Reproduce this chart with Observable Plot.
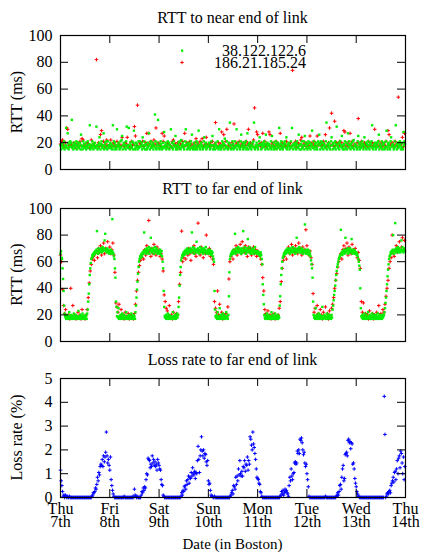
<!DOCTYPE html>
<html><head><meta charset="utf-8">
<script src="https://cdn.jsdelivr.net/npm/d3@7"></script>
<script src="https://cdn.jsdelivr.net/npm/@observablehq/plot@0.6"></script>
<style>
html,body{margin:0;padding:0;background:#fff;}
#wrap{position:relative;width:433px;height:558px;overflow:hidden;font-family:"Liberation Serif","Times New Roman",serif;}
</style></head>
<body><div id="wrap"></div>
<script>
// ---- tick / label data ----
const dayTicks = [0, 24, 48, 72, 96, 120, 144, 168]; // hours since Thu 7th 00:00
const dayLabels = ["Thu\n7th", "Fri\n8th", "Sat\n9th", "Sun\n10th", "Mon\n11th", "Tue\n12th", "Wed\n13th", "Thu\n14th"];
const rttTicks = [0, 20, 40, 60, 80, 100];
const lossTicks = [0, 1, 2, 3, 4, 5];
const seriesNames = ["38.122.122.6", "186.21.185.24"];
const titles = ["RTT to near end of link", "RTT to far end of link", "Loss rate to far end of link"];
const yLabels = ["RTT (ms)", "RTT (ms)", "Loss rate (%)"];
const xLabel = "Date (in Boston)";

// ---- sampling intervals (hours) ----
const greenStep = 0.25, redStep = 0.5, lossStep = 1 / 3;

// ---- RTT to near end, 38.122.122.6 (every 15 min) ----
const nearGreen = [
18,15,19,18,17,16,20,21,15,18,17,31, 18,16,27,20,15,17,19,21,17,20,37,16, 18,15,17,20,19,16,18,21,15,18,20,17, 16,18,20,15,26,18,17,15,21,17,19,16,
17,20,15,17,18,21,16,18,19,33,15,18, 16,17,21,19,15,18,17,20,16,17,32,18, 15,18,16,20,24,18,15,19,21,17,16,18, 27,15,18,20,17,16,21,15,21,18,16,18,
17,20,16,19,15,18,33,17,21,15,20,18, 16,15,30,18,17,20,18,15,16,21,17,22, 25,15,18,20,19,16,18,15,21,32,17,18, 16,31,18,15,20,18,17,16,21,15,20,29,
18,15,16,20,17,19,15,17,21,16,17,21, 17,18,20,15,24,18,16,21,18,15,19,18, 15,16,20,17,27,18,15,19,21,16,17,18, 20,15,18,17,41,21,16,15,18,20,37,16,
18,15,16,21,19,17,15,17,20,16,28,17, 18,20,15,18,16,21,18,20,15,18,17,30, 17,20,16,15,19,21,17,18,25,15,16,18, 15,18,20,17,21,16,15,22,18,17,20,18,
16,15,18,21,30,18,19,15,16,20,17,18, 15,19,21,16,26,17,15,17,20,18,15,16, 18,21,15,20,17,29,18,16,15,18,20,17, 18,15,16,21,24,17,18,20,15,16,18,17,
17,20,19,15,16,18,21,18,25,15,18,16, 18,15,20,18,17,16,21,17,15,30,17,18, 16,15,18,21,17,20,19,15,23,18,16,17, 21,17,15,16,20,19,35,18,15,18,16,21,
19,15,17,16,21,17,18,30,15,18,20,17, 18,16,15,21,26,17,18,20,15,16,18,20, 17,21,15,16,27,18,15,19,20,17,16,18, 15,18,20,17,21,35,16,15,18,17,20,18,
16,15,18,21,24,18,19,15,18,16,20,18, 17,21,19,15,26,18,16,20,18,15,19,18, 17,16,21,15,25,18,17,20,15,16,17,21, 19,15,18,16,20,18,31,17,15,19,21,16,
18,15,18,20,17,21,19,16,24,15,17,18, 20,19,15,17,16,21,17,31,18,15,19,18, 16,20,18,15,19,21,17,16,26,18,15,18, 19,15,21,16,17,18,21,15,25,18,20,16,
18,15,19,21,16,17,20,15,18,19,29,17, 16,21,17,15,19,17,20,16,15,18,21,20, 26,18,15,19,21,16,17,20,15,19,18,17, 16,21,35,15,18,19,17,20,16,15,18,21,
24,18,15,19,20,16,17,21,15,19,32,18, 17,16,20,15,19,21,17,18,25,16,15,18, 19,15,21,17,16,20,15,19,27,18,21,16, 18,15,19,20,17,16,21,22,15,18,19,17,
18,16,15,21,25,17,19,15,20,16,18,17, 21,19,15,18,24,17,16,20,15,19,18,21, 16,18,15,20,19,17,21,33,16,15,18,19, 17,20,15,16,18,20,17,21,26,15,19,18,
17,16,21,15,19,18,20,15,16,17,21,29, 17,15,19,20,18,16,15,21,24,17,18,19, 18,15,16,21,17,33,18,15,19,20,16,17, 18,21,19,15,17,16,20,15,28,18,21,19
];

// ---- RTT to near end, 186.21.185.24 (every 30 min) ----
const nearRed = [
19,21,22,18,17,20,31,30,18,17,19,18, 17,20,18,16,19,18,17,21,18,23,22,17, 18,17,20,19,16,18,22,17,19,18,17,82, 18,20,17,26,29,18,21,17,19,22,18,17,
18,22,17,19,20,18,17,21,18,19,17,18, 24,18,17,20,19,24,18,17,16,21,18,19, 32,25,18,48,17,20,19,18,21,17,18,20, 27,18,27,19,21,17,18,22,19,31,18,20,
18,19,17,27,21,25,18,17,20,19,16,18, 17,21,22,18,19,17,20,18,16,19,18,21, 17,27,18,20,19,17,21,18,19,16,18,20, 23,17,19,18,21,20,23,17,18,19,24,18,
19,17,20,18,21,17,19,35,18,17,20,18, 19,28,17,26,18,21,30,17,19,18,16,20, 18,34,17,19,20,18,21,17,19,18,20,17, 18,21,19,30,17,20,18,19,22,46,17,28,
26,18,19,17,20,27,18,21,17,19,18,28, 26,17,19,20,18,16,21,18,19,17,27,18, 20,17,19,18,21,17,19,18,20,17,74,19, 18,21,17,20,19,18,22,24,17,19,18,20,
17,19,18,25,20,17,19,21,18,17,25,18, 19,20,17,18,21,19,26,17,18,20,31,18, 42,19,17,36,18,20,19,17,21,18,20,17, 29,28,18,20,17,19,27,18,21,17,19,18,
18,20,38,17,19,21,18,17,20,19,18,17, 21,18,19,17,20,18,30,17,19,18,21,17, 18,20,17,19,18,21,17,29,26,18,19,20, 17,18,21,19,17,54,18,20,19,24,17,27
];

// ---- RTT to far end, 38.122.122.6 (every 15 min) ----
const farGreen = [
66,68,63,62,55,47,38,27,21,19,18,17, 19,18,20,17,18,22,19,17,18,20,17,19, 18,17,21,19,18,17,20,18,19,17,18,23, 17,19,18,20,17,18,19,21,17,18,19,17,
18,20,19,17,21,24,30,36,43,50,55,59, 62,63,65,64,66,65,67,66,68,67,69,83, 68,66,70,68,67,69,68,70,69,67,71,68, 69,70,76,81,68,69,67,70,68,69,67,66,
68,67,69,66,68,92,67,66,64,62,55,48, 30,26,19,22,18,25,17,19,18,20,17,18, 21,19,17,18,20,18,19,17,22,18,17,19, 18,20,17,19,18,17,21,18,19,17,20,18,
19,17,22,27,33,39,45,51,56,60,62,64, 63,65,66,64,67,66,68,82,67,69,68,66, 70,67,69,68,71,66,69,70,78,68,67,69, 70,68,66,69,71,67,68,70,69,66,68,67,
68,66,69,67,65,68,64,60,55,38,26,19, 18,20,17,19,18,21,17,18,20,19,17,18, 19,17,18,22,18,19,17,20,18,17,19,21, 18,20,26,33,42,50,56,61,63,65,64,66,
67,65,68,66,69,67,68,70,66,69,68,67, 69,70,68,67,82,69,71,68,66,70,69,67, 68,75,69,67,70,68,66,69,71,68,67,70, 69,68,66,70,67,69,68,71,67,66,68,69,
67,68,66,69,67,65,68,66,67,64,62,60, 38,24,19,18,20,17,22,18,19,17,25,18, 20,17,19,18,21,17,18,20,19,17,18,22, 19,18,17,20,34,52,62,64,66,65,67,68,
66,69,67,68,81,66,70,68,67,69,71,68, 67,70,68,69,66,68,70,67,83,69,68,71, 68,66,69,70,67,77,68,69,71,67,68,66, 69,68,70,67,66,69,68,71,67,68,66,67,
68,66,67,65,66,64,67,65,62,58,43,35, 28,20,18,17,19,18,21,17,18,20,19,17, 18,19,17,22,18,20,17,19,18,17,21,18, 19,17,18,20,17,19,18,27,34,43,50,55,
60,63,64,66,65,67,68,66,69,67,68,70, 67,69,68,66,70,67,69,68,71,67,68,69, 70,66,68,69,78,67,70,68,69,71,67,68, 69,67,70,68,66,69,68,67,88,68,66,69,
68,66,69,67,65,68,66,64,61,58,55,48, 30,20,18,19,17,25,18,20,17,19,18,21, 17,18,20,19,17,18,26,19,17,18,20,18, 19,17,18,21,17,19,18,20,17,18,19,17,
20,18,24,27,31,35,38,42,46,50,53,56, 58,60,62,63,64,65,84,66,67,65,68,67, 69,66,68,78,67,69,68,70,66,69,67,68, 70,67,68,77,69,66,68,67,69,68,66,67,
67,65,66,64,62,60,57,54,40,25,19,18, 20,17,19,18,21,17,18,19,20,17,18,22, 18,19,17,20,18,17,19,21,18,17,20,19, 17,18,20,19,17,18,21,17,19,18,20,17,
18,19,17,20,18,19,20,22,25,29,33,38, 43,49,54,58,62,64,65,67,66,68,67,69, 80,68,66,69,89,67,70,68,69,71,67,68, 70,69,67,68,76,69,71,68,67,69,70,68
];

// ---- RTT to far end, 186.21.185.24 (every 30 min) ----
const farRed = [
65,60,39,27,21,24,19,18,20,17,40,19, 27,18,20,17,19,22,18,20,17,24,18,19, 17,20,24,33,44,53,58,62,64,61,66,68, 63,70,67,72,65,69,74,66,70,68,75,67,
71,66,69,74,65,52,29,26,22,28,19,24, 18,20,17,22,19,18,21,17,19,20,18,17, 21,28,38,46,52,57,61,63,66,62,69,65, 72,67,91,68,64,70,66,73,68,65,71,67,
69,64,66,62,53,35,30,25,23,19,27,18, 20,17,22,19,18,21,20,30,43,52,83,60, 63,66,62,68,65,70,66,61,69,67,72,66, 64,69,89,68,65,71,67,63,69,66,80,68,
66,70,64,67,62,58,30,25,22,38,20,28, 19,22,17,20,18,21,19,26,47,60,64,66, 62,69,67,72,65,70,68,73,66,75,70,67, 72,69,64,71,67,70,65,68,71,66,69,64,
68,65,66,62,58,48,38,24,21,19,23,18, 20,17,19,18,21,17,19,18,20,25,30,45, 55,61,64,67,62,69,71,66,68,73,65,70, 67,72,69,66,74,68,70,65,71,67,69,84,
72,67,65,68,63,58,36,22,25,19,27,21, 18,24,20,17,22,19,26,18,21,17,23,19, 25,28,33,40,46,51,56,60,63,66,62,69, 72,67,70,74,65,71,68,66,73,69,67,70,
66,63,67,61,55,30,22,29,19,21,18,20, 17,23,19,18,21,17,20,19,22,18,27,19, 21,18,24,22,28,34,40,46,55,60,63,80, 66,64,69,72,67,70,75,68,71,78,69,76
];

// ---- Loss rate to far end (every 20 min) ----
const lossRate = [
1.15,.7,.5,.25,.05,.1,0,.1,.05,0,.05,0, 0,.05,0,0,0,0,0,0,0,0,0,0, 0,0,0,0,0,0,0,0,0,0,0,0, 0,0,0,0,0,0,0,0,0,0,.05,.1,
.2,.2,.25,.4,.35,.55,.85,.7,1.05,.95,1.3,1.4, 1.35,1.6,1.3,1.75,1.5,1.7,1.9,2.75,1.75,1.45,1.6,1.35,
1.15,1.7,.75,.5,.3,.15,.05,0,0,0,0,0, 0,0,0,0,0,0,0,0,0,.05,0,0, 0,0,0,0,0,0,0,0,0,0,.05,0, .35,.1,.05,0,.05,0,0,0,0,0,.1,.25,
.2,.4,.3,.45,.4,.75,1.0,.95,1.65,1.6,1.55,1.25, 1.4,1.3,1.75,1.45,1.6,1.35,1.5,1.3,1.4,1.15,1.6,1.45,
1.35,1.2,1.15,.75,.55,.5,.1,.05,0,0,0,0, 0,0,0,0,0,0,0,0,0,0,0,0, 0,0,0,0,0,0,0,0,.05,.2,.1,.3, .25,.45,.5,.35,.7,.55,.75,.9,.6,.85,.8,1.05,
.9,1.25,1.0,.95,1.1,.8,1.05,1.0,1.55,2.15,1.6,1.05, 1.75,2.0,2.55,1.95,1.75,2.0,1.65,1.85,1.8,1.5,1.35,1.55,
.7,.55,.6,.3,.1,.05,.05,0,0,.05,0,0, 0,0,0,0,0,0,0,0,0,0,0,0, 0,0,0,0,0,0,0,0,.05,.1,.2,.3, .15,.5,.45,.35,.85,.55,.9,.7,1.2,.95,1.55,1.0,
.9,1.1,.9,1.3,1.25,1.55,1.1,1.4,1.35,1.7,1.15,1.55, 1.4,2.55,2.45,2.2,2.0,2.75,2.25,2.1,1.85,1.6,1.2,.85,
.8,.75,.6,.55,.25,.2,.05,0,0,0,0,0, 0,0,0,0,0,0,0,0,0,0,0,0, 0,0,0,0,0,0,0,0,0,.05,.1,.25, .15,.3,.1,.2,.35,.25,.3,.2,.15,.05,.5,.85,
.7,1.2,.9,.75,1.0,1.05,1.45,1.5,1.4,1.45,1.95,1.85, 2.0,1.85,2.45,2.4,2.5,2.3,2.0,1.8,1.9,1.45,1.3,1.4,
1.0,.75,.45,.05,0,0,0,0,0,0,0,0, 0,0,0,0,0,0,0,0,0,0,0,0, 0,0,0,.05,0,0,0,0,0,0,0,0, 0,0,0,0,0,0,0,.05,.1,.2,.1,.25,
.5,.55,.35,.85,1.2,1.35,.7,.8,1.8,1.85,1.9,1.75, 2.4,2.45,2.3,2.35,2.05,2.3,2.25,1.4,1.45,1.2,.8,.6,
.45,.25,.15,.05,.05,0,0,0,0,0,0,0, 0,0,0,0,0,0,0,0,0,0,0,0, 0,0,0,0,0,0,0,0,0,0,0,0, 0,0,0,0,0,4.25,2.65,0,.05,.15,.2,.15,
.25,.3,.2,.5,.6,.7,.85,.65,1.05,1.1,.75,1.2, 1.55,1.0,1.65,1.75,1.25,1.95,1.85,1.45,1.0,1.7,.75,1.3
];

// ---- build tables ----
const toRows = (arr, step) => arr.map((v, i) => ({t: i * step, v}));
const nearG = toRows(nearGreen, greenStep), nearR = toRows(nearRed, redStep);
const farG = toRows(farGreen, greenStep), farR = toRows(farRed, redStep);
const loss = toRows(lossRate, lossStep);

const GREEN = "#00f000", RED = "#ff0000", BLUE = "#0000ff";
const W = 433, ML = 60, MR = 28;
const FONT = '"Liberation Serif", "Times New Roman", serif';
const wrap = document.getElementById("wrap");

function panel({top, height, mt, mb, yDomain, yTicks, dataMarks, showX}) {
  const innerW = W - ML - MR, innerH = height - mt - mb;
  const marks = [
    ...dataMarks,
    Plot.frame({stroke: "black", strokeWidth: 1.2}),
    Plot.tickX(dayTicks, {x: d => d, stroke: "black", insetTop: innerH - 8}),
    Plot.tickX(dayTicks, {x: d => d, stroke: "black", insetBottom: innerH - 8}),
    Plot.tickY(yTicks, {y: d => d, stroke: "black", insetRight: innerW - 8}),
    Plot.tickY(yTicks, {y: d => d, stroke: "black", insetLeft: innerW - 8}),
    Plot.axisY(yTicks, {tickSize: 0, tickPadding: 8, label: null, fontSize: 16})
  ];
  if (showX) marks.push(Plot.axisX(dayTicks, {tickSize: 0, tickPadding: 8, label: null, fontSize: 16, lineHeight: 0.79,
    tickFormat: d => dayLabels[dayTicks.indexOf(d)]}));
  const svg = Plot.plot({
    width: W, height, marginLeft: ML, marginRight: MR, marginTop: mt, marginBottom: mb,
    x: {domain: [0, 168], axis: showX ? undefined : null},
    y: {domain: yDomain},
    style: {fontFamily: FONT, fontSize: "16px", background: "transparent", color: "black", overflow: "visible"},
    marks
  });
  svg.style.position = "absolute";
  svg.style.top = top + "px";
  svg.style.left = "0px";
  wrap.appendChild(svg);
}

const greenDot = (data) => Plot.dot(data, {x: "t", y: "v", symbol: "square", r: 1.35, fill: GREEN});
const redPlus = (data) => Plot.dot(data, {x: "t", y: "v", symbol: "plus", r: 1.25, stroke: RED, strokeWidth: 1});

panel({top: 0, height: 175, mt: 35, mb: 6, yDomain: [0, 100], yTicks: rttTicks,
  dataMarks: [redPlus(nearR), greenDot(nearG)], showX: false});
panel({top: 175, height: 170, mt: 33, mb: 4, yDomain: [0, 100], yTicks: rttTicks,
  dataMarks: [redPlus(farR), greenDot(farG)], showX: false});
panel({top: 345, height: 213, mt: 33, mb: 61, yDomain: [0, 5], yTicks: lossTicks,
  dataMarks: [Plot.dot(loss, {x: "t", y: "v", symbol: "plus", r: 1.25, stroke: BLUE, strokeWidth: 1})], showX: true});

// ---- overlay: titles, axis labels, key ----
const ov = d3.select(wrap).append("svg")
  .attr("width", W).attr("height", 558)
  .style("position", "absolute").style("top", "0px").style("left", "0px")
  .style("font-family", FONT);
const titleBase = [22.7, 194, 365];
const panelMid = [102, 274.5, 437.5];
titles.forEach((t, i) => ov.append("text").attr("x", (ML + W - MR) / 2).attr("y", titleBase[i])
  .attr("text-anchor", "middle").attr("font-size", 16).text(t));
yLabels.forEach((t, i) => ov.append("text")
  .attr("transform", `translate(21.5,${panelMid[i]}) rotate(-90)`)
  .attr("text-anchor", "middle").attr("font-size", 16).text(t));
ov.append("text").attr("x", (ML + W - MR) / 2).attr("y", 549).attr("text-anchor", "middle")
  .attr("font-size", 15).text(xLabel);
// key
const keyBase = [55.5, 68];
seriesNames.forEach((n, i) => ov.append("text").attr("x", 306).attr("y", keyBase[i])
  .attr("text-anchor", "end").attr("font-size", 16).text(n));
ov.append("rect").attr("x", 181).attr("y", 49.5).attr("width", 2.3).attr("height", 2.3).attr("fill", GREEN);
ov.append("path").attr("d", "M180.3,62.5h3.4M182,60.8v3.4").attr("stroke", RED).attr("stroke-width", 1);
</script>
</body></html>
